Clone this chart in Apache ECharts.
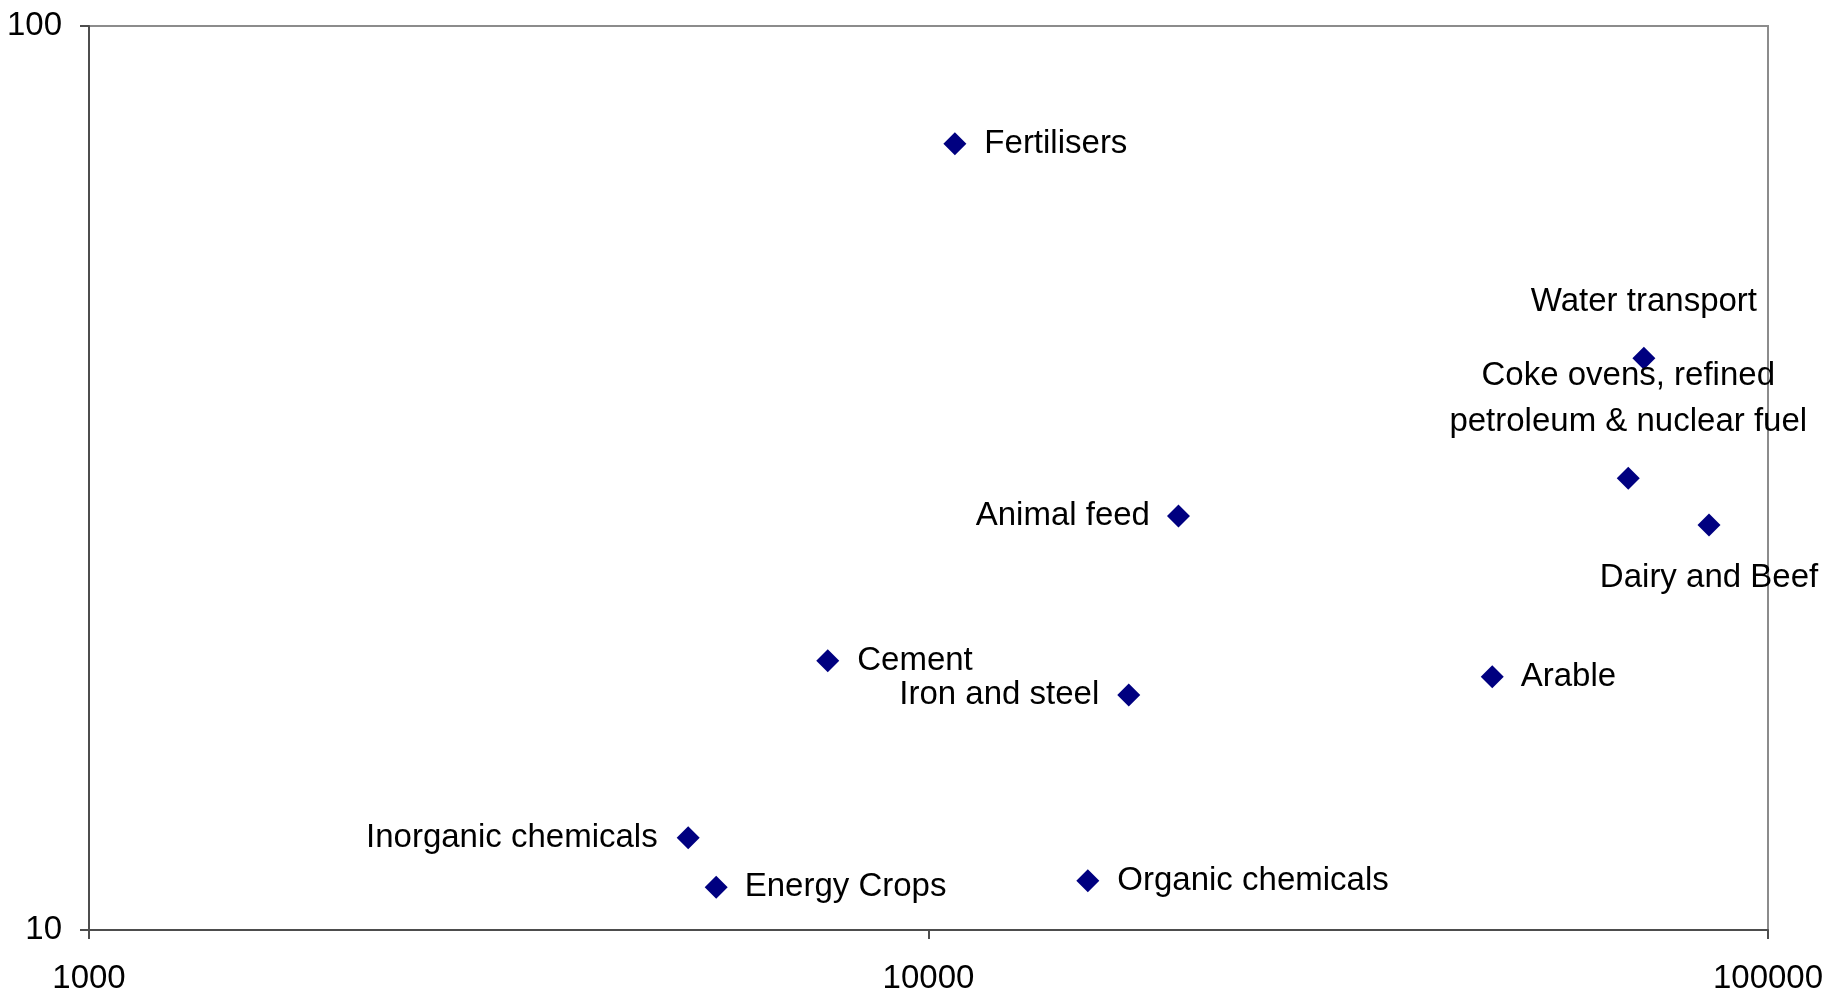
<!DOCTYPE html>
<html>
<head>
<meta charset="utf-8">
<script src="https://cdn.jsdelivr.net/npm/echarts@6/dist/echarts.min.js"></script>
<style>
  html, body { margin: 0; padding: 0; background: #fff; }
  #chart { width: 1832px; height: 995px; }
</style>
</head>
<body>
<div id="chart"></div>
<script>
const names = [
  'Fertilisers', 'Water transport', 'Coke ovens, refined\npetroleum & nuclear fuel',
  'Dairy and Beef', 'Animal feed', 'Cement', 'Iron and steel', 'Arable',
  'Inorganic chemicals', 'Energy Crops', 'Organic chemicals'
]
const xValues = [10750, 71150, 68160, 85060, 19850, 7585, 17320, 46940, 5173, 5586, 15480]
const yValues = [74.1, 42.9, 31.6, 28.05, 28.7, 19.86, 18.19, 19.06, 12.65, 11.15, 11.34]
const xTicks = [1000, 10000, 100000]
const yTicks = [10, 100]

// where each label sits relative to its marker
const labelPlace = {
  'Fertilisers': { position: 'right', distance: 18 },
  'Water transport': { position: 'top', distance: 27 },
  'Coke ovens, refined\npetroleum & nuclear fuel': { position: 'top', distance: 22, lineHeight: 46 },
  'Dairy and Beef': { position: 'bottom', distance: 23 },
  'Animal feed': { position: 'left', distance: 17 },
  'Cement': { position: 'right', distance: 18 },
  'Iron and steel': { position: 'left', distance: 18 },
  'Arable': { position: 'right', distance: 17 },
  'Inorganic chemicals': { position: 'left', distance: 19 },
  'Energy Crops': { position: 'right', distance: 17 },
  'Organic chemicals': { position: 'right', distance: 18 },
}

const font = "'Liberation Sans', Arial, sans-serif"

const points = names.map((n, i) => {
  const p = labelPlace[n]
  return {
    name: n,
    value: [xValues[i], yValues[i]],
    label: {
      position: p.position,
      distance: p.distance,
      lineHeight: p.lineHeight || 36,
      align: p.position === 'top' || p.position === 'bottom' ? 'center' : undefined,
    },
  }
})

const chart = echarts.init(document.getElementById('chart'))
chart.setOption({
  backgroundColor: '#fff',
  animation: false,
  grid: {
    left: 89,
    right: 64,
    top: 26,
    bottom: 62,
    show: true,
    borderColor: '#8c8c8c',
    borderWidth: 2,
  },
  xAxis: {
    type: 'log',
    logBase: 10,
    min: xTicks[0],
    max: xTicks[xTicks.length - 1],
    splitLine: { show: false },
    axisLine: { show: true, lineStyle: { color: '#4d4d4d', width: 2 } },
    axisTick: { show: true, inside: false, length: 9, lineStyle: { color: '#4d4d4d', width: 2 } },
    axisLabel: {
      color: '#000',
      fontSize: 33,
      fontFamily: font,
      margin: 32,
      formatter: (v) => String(Math.round(v)),
    },
  },
  yAxis: {
    type: 'log',
    logBase: 10,
    min: yTicks[0],
    max: yTicks[yTicks.length - 1],
    splitLine: { show: false },
    axisLine: { show: true, lineStyle: { color: '#4d4d4d', width: 2 } },
    axisTick: { show: true, inside: false, length: 9, lineStyle: { color: '#4d4d4d', width: 2 } },
    axisLabel: {
      color: '#000',
      fontSize: 33,
      fontFamily: font,
      margin: 27,
      formatter: (v) => String(Math.round(v)),
    },
  },
  series: [
    {
      type: 'scatter',
      symbol: 'diamond',
      symbolSize: 23,
      itemStyle: { color: '#000080', opacity: 1 },
      label: {
        show: true,
        color: '#000',
        fontSize: 33,
        fontFamily: font,
        formatter: (p) => p.name,
      },
      data: points,
    },
  ],
})
window.addEventListener('resize', () => {
  chart.resize()
})
</script>
</body>
</html>
